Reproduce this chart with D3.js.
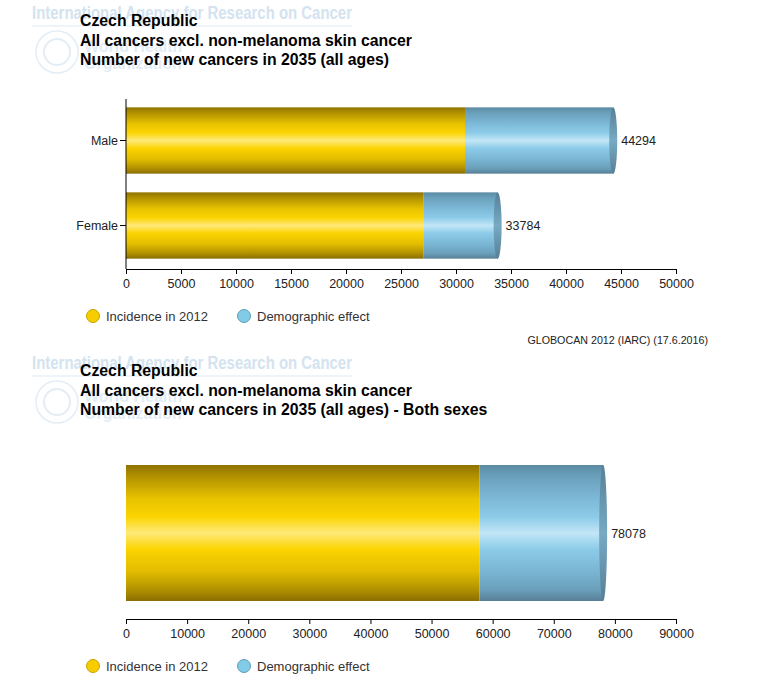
<!DOCTYPE html>
<html><head><meta charset="utf-8">
<script src="https://cdn.jsdelivr.net/npm/d3@7"></script>
<style>body{margin:0;background:#fff}svg{display:block}</style>
</head><body>
<script>
// ---- data ----
const sexCategories = ["Male", "Female"];
const sexIncidence2012 = [30820, 27020];
const sexDemographicEffect = [13474, 6764];
const sexTotal2035 = [44294, 33784];
const sexTicks = [0,5000,10000,15000,20000,25000,30000,35000,40000,45000,50000];

const bothCategories = ["Both sexes"];
const bothIncidence2012 = [57840];
const bothDemographicEffect = [20238];
const bothTotal2035 = [78078];
const bothTicks = [0,10000,20000,30000,40000,50000,60000,70000,80000,90000];

const titleLines1 = ["Czech Republic", "All cancers excl. non-melanoma skin cancer", "Number of new cancers in 2035 (all ages)"];
const titleLines2 = ["Czech Republic", "All cancers excl. non-melanoma skin cancer", "Number of new cancers in 2035 (all ages) - Both sexes"];
const seriesNames = ["Incidence in 2012", "Demographic effect"];
const sourceText = "GLOBOCAN 2012 (IARC) (17.6.2016)";

const W = 765, H = 688;
const svg = d3.select("body").append("svg").attr("width", W).attr("height", H);
const defs = svg.append("defs");

function grad(id, stops) {
  const g = defs.append("linearGradient").attr("id", id).attr("x1", 0).attr("y1", 0).attr("x2", 0).attr("y2", 1);
  stops.forEach(([o, c]) => g.append("stop").attr("offset", o).attr("stop-color", c));
}
grad("gY", [[0,"#8f7300"],[0.08,"#b09000"],[0.25,"#e8c300"],[0.38,"#fbd400"],[0.5,"#fee97a"],[0.62,"#fbd400"],[0.78,"#e2bd00"],[0.92,"#b09000"],[1,"#8a6e00"]]);
grad("gB", [[0,"#5b8aa3"],[0.08,"#6a9fba"],[0.25,"#7db9d8"],[0.38,"#8ccbe8"],[0.5,"#c2e6f6"],[0.62,"#8ccbe8"],[0.78,"#7ab6d3"],[0.92,"#6a9fba"],[1,"#587f96"]]);
grad("gCap", [[0,"#557f96"],[0.5,"#78aac4"],[1,"#557f96"]]);

const FONT = "'Liberation Sans', Arial, sans-serif";

function drawChart(oy, cats, inc, demo, totals, xMax, ticks, titles, showY) {
  const g = svg.append("g").attr("transform", `translate(0,${oy})`);
  // watermark
  g.append("text").attr("x", 32).attr("y", 19).attr("font-family", FONT).attr("font-size", 18)
    .attr("font-weight", "bold").attr("fill", "#d3e3ef").attr("textLength", 320).attr("lengthAdjust", "spacingAndGlyphs")
    .text("International Agency for Research on Cancer");
  g.append("line").attr("x1", 32).attr("x2", 352).attr("y1", 26).attr("y2", 26).attr("stroke", "#dde9f2");
  g.append("circle").attr("cx", 57).attr("cy", 52).attr("r", 21).attr("fill", "none").attr("stroke", "#e4edf5").attr("stroke-width", 1.5);
  g.append("circle").attr("cx", 57).attr("cy", 52).attr("r", 13).attr("fill", "none").attr("stroke", "#e4edf5").attr("stroke-width", 2);
  g.append("text").attr("x", 84).attr("y", 52).attr("font-family", FONT).attr("font-size", 16).attr("font-weight", "bold").attr("fill", "#e3edf5").text("World Health");
  g.append("text").attr("x", 84).attr("y", 69).attr("font-family", FONT).attr("font-size", 16).attr("font-weight", "bold").attr("fill", "#e3edf5").text("Organization");
  // titles
  titles.forEach((t, i) => g.append("text").attr("x", 80).attr("y", 26 + i * 19.5)
    .attr("font-family", FONT).attr("font-size", 15.8).attr("font-weight", "bold").attr("fill", "#000").text(t));

  const x = d3.scaleLinear().domain([0, xMax]).range([126, 676]);
  const y = d3.scaleBand().domain(cats).range([98, 268]);
  if (cats.length > 1) y.paddingInner(0.22).paddingOuter(0.11); else y.paddingInner(0.2).paddingOuter(0.1);

  const bh = y.bandwidth();
  const rx = 4;
  cats.forEach((c, i) => {
    const y0 = y(c);
    g.append("rect").attr("x", x(0)).attr("y", y0).attr("width", x(inc[i]) - x(0)).attr("height", bh).attr("fill", "url(#gY)");
    g.append("ellipse").attr("cx", x(0) + 1.5).attr("cy", y0 + bh / 2).attr("rx", 1.5).attr("ry", bh / 2).attr("fill", "url(#gY)");
    g.append("rect").attr("x", x(inc[i])).attr("y", y0).attr("width", x(inc[i] + demo[i]) - x(inc[i])).attr("height", bh).attr("fill", "url(#gB)");
    g.append("ellipse").attr("cx", x(inc[i] + demo[i])).attr("cy", y0 + bh / 2).attr("rx", rx).attr("ry", bh / 2).attr("fill", "url(#gCap)");
    g.append("text").attr("x", x(totals[i]) + 8).attr("y", y0 + bh / 2 + 4.5)
      .attr("font-family", FONT).attr("font-size", 12.5).attr("fill", "#222").text(totals[i]);
  });

  const xa = g.append("g").attr("transform", "translate(0,269)")
    .call(d3.axisBottom(x).tickValues(ticks).tickFormat(d3.format("d")).tickSize(5).tickSizeOuter(0));
  xa.select(".domain").attr("stroke", "#000");
  xa.selectAll(".tick line").attr("stroke", "#000");
  xa.selectAll("text").attr("font-family", FONT).attr("font-size", 12.5).attr("fill", "#222").attr("dy", "0.85em");

  if (showY) {
    const ya = g.append("g").attr("transform", "translate(126,0)").call(d3.axisLeft(y).tickSize(6).tickSizeOuter(0));
    ya.select(".domain").attr("stroke", "#000").attr("d", "M0,99V269");
    ya.selectAll(".tick line").attr("stroke", "#000");
    ya.selectAll("text").attr("font-family", FONT).attr("font-size", 12.5).attr("fill", "#222").attr("x", -8);
  }

  const lg = [[93, "#f7cd00", "#c9a400"], [244, "#82cbe6", "#5d9cb8"]];
  lg.forEach(([lx, f, s], i) => {
    g.append("circle").attr("cx", lx).attr("cy", 316).attr("r", 6.5).attr("fill", f).attr("stroke", s);
    g.append("text").attr("x", lx + 13).attr("y", 320.5).attr("font-family", FONT).attr("font-size", 13).attr("fill", "#333").text(seriesNames[i]);
  });
}

drawChart(0, sexCategories, sexIncidence2012, sexDemographicEffect, sexTotal2035, 50000, sexTicks, titleLines1, true);
svg.append("text").attr("x", 708).attr("y", 344).attr("text-anchor", "end").attr("font-family", FONT).attr("font-size", 10.7).attr("fill", "#222").text(sourceText);
drawChart(350, bothCategories, bothIncidence2012, bothDemographicEffect, bothTotal2035, 90000, bothTicks, titleLines2, false);
</script>
</body></html>
